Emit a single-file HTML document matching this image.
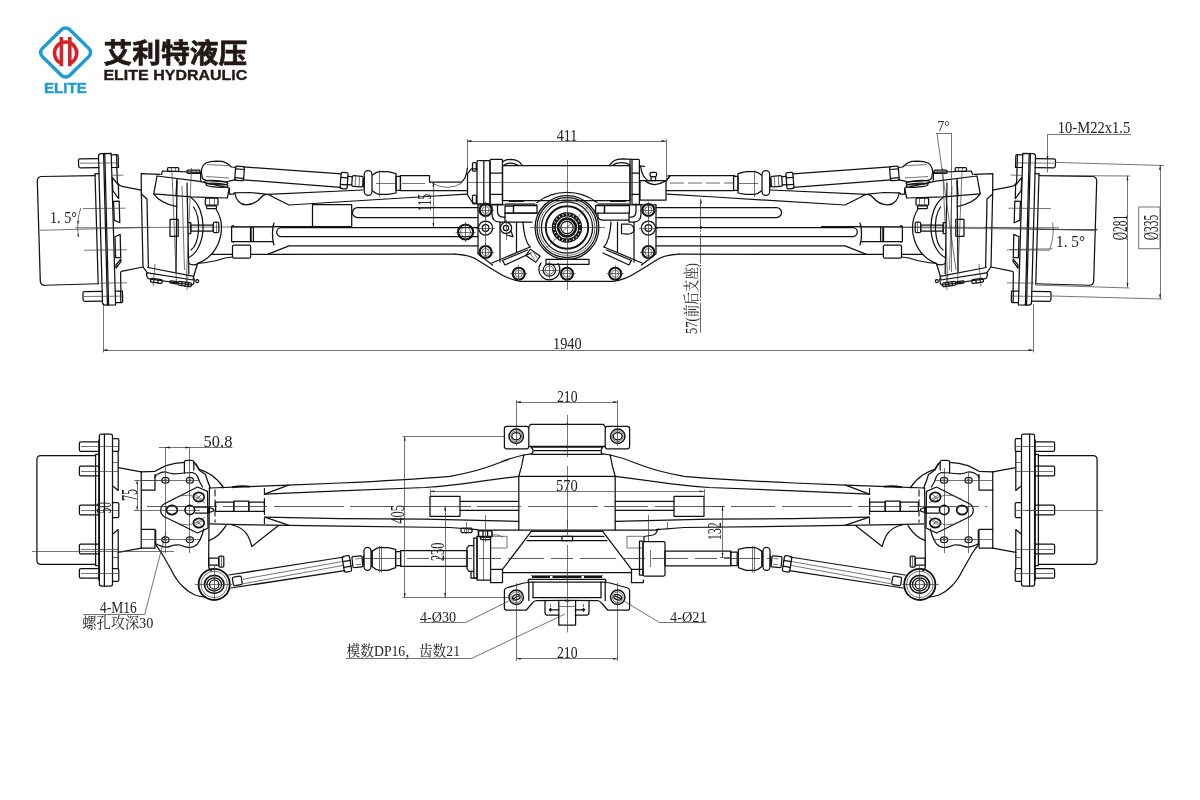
<!DOCTYPE html>
<html lang="zh"><head><meta charset="utf-8"><title>ELITE HYDRAULIC</title>
<style>
html,body{margin:0;padding:0;background:#fff}
body{width:1200px;height:800px;overflow:hidden}
svg{display:block;will-change:transform}
.m{fill:none;stroke:#111;stroke-width:1.25;stroke-linecap:round;stroke-linejoin:round}
.b{fill:none;stroke:#111;stroke-width:1.9}
.t{fill:none;stroke:#3a3a3a;stroke-width:.7}
.cl{fill:none;stroke:#333;stroke-width:.75;stroke-dasharray:14 4}
.w{fill:#fff;stroke:#1c1c1c;stroke-width:1;stroke-linejoin:round}
.k{fill:#1c1c1c;stroke:none}
.d{font-family:"Liberation Serif","Noto Serif CJK SC",serif;fill:#222}
.lg{font-family:"Liberation Sans","Noto Sans CJK SC",sans-serif;font-weight:bold}
</style></head><body>
<svg width="1200" height="800" viewBox="0 0 1200 800">
<g transform="translate(65.6 52.5)">
<rect x="-19.4" y="-19.4" width="38.8" height="38.8" rx="6" transform="scale(1 .98) rotate(45)" fill="none" stroke="#1e9ad6" stroke-width="3.5"/>
<path d="M-4.2 10.9 A11.1 11.1 0 1 1 4.2 10.9" fill="none" stroke="#d7222a" stroke-width="3.6"/>
<path d="M-4.2 -15.6 V13.7 M4.2 -15.6 V13.7" fill="none" stroke="#d7222a" stroke-width="3.6"/>
</g>
<text class="lg" x="65.4" y="92.6" font-size="15" text-anchor="middle" fill="#1e9ad6" stroke="#1e9ad6" stroke-width=".4" textLength="43" lengthAdjust="spacingAndGlyphs">ELITE</text>
<text class="lg" x="103.4" y="62.8" font-size="27.6" fill="#231815" stroke="#231815" stroke-width=".7" textLength="144" lengthAdjust="spacingAndGlyphs">艾利特液压</text>
<text class="lg" x="103.4" y="80.2" font-size="14.4" fill="#231815" stroke="#231815" stroke-width=".35" textLength="144" lengthAdjust="spacingAndGlyphs">ELITE HYDRAULIC</text>
<g id="tl">
<path class="m" d="M95 175.6 L42 176.5 Q37.3 176.6 37.3 181 L40.3 281 Q40.6 285.4 45 285.25 L98 283.75"/>
<line class="m" x1="95" y1="173.8" x2="98.2" y2="283.8"/>
<line class="m" x1="95" y1="173.8" x2="98.9" y2="173.7"/>
<path class="m" d="M98.5 156 Q98.5 153.5 101 153.5 L111.2 153.4 L115.6 304.8 L105.5 305.1 Q102.6 305.1 102.5 302.5 Z"/>
<line class="m" x1="103.6" y1="153.5" x2="107.4" y2="305"/>
<line class="m" x1="104.8" y1="153.5" x2="108.6" y2="305"/>
<path class="m" d="M98.6 158.6 L80 158.8 Q78.5 158.8 78.5 160.3 L78.7 166.3 Q78.7 167.8 80.2 167.8 L98.9 167.6"/>
<path class="m" d="M102.1 291.4 L84.4 291.7 Q82.9 291.7 82.9 293.2 L83.1 299.8 Q83.1 301.3 84.6 301.3 L102.4 301.1"/>
<path class="m" d="M111.3 154.8 L117 154.7 Q118.2 154.7 118.2 156 L118.5 167.4 L111.7 167.5"/>
<path class="m" d="M115.2 291.2 L122.4 291.1 L122.7 301.3 Q122.7 302.6 121.4 302.6 L115.5 302.7"/>
<line class="m" x1="116.6" y1="154.8" x2="116.9" y2="167.4"/>
<line class="m" x1="120.6" y1="291.2" x2="120.9" y2="302.6"/>
<path class="m" d="M116.9 167.5 L117.3 181 Q117.5 185.3 122 186.3 L141.3 190.2"/>
<path class="m" d="M120.9 291.1 L120.6 272.5 Q120.6 271.5 122.5 271.2 L143 267"/>
<path class="m" d="M112.3 177.5 L118.4 185.2 L118.7 198.6 L112.8 190.6 Z"/>
<path class="m" d="M113.6 201.4 L119.2 201.2 L119.8 222.8 L114.3 220.4 Z"/>
<path class="m" d="M115 236.8 L120.2 234.4 L120.7 257.6 L115.6 257.6 Z"/>
<path class="m" d="M115.9 265.2 L120.9 259 L120.9 261.6 L116 268 Z"/>
<line class="t" x1="111" y1="175.3" x2="123.5" y2="175.1"/>
<line class="t" x1="83" y1="208.6" x2="125.5" y2="208.2"/>
<line class="t" x1="84" y1="250.2" x2="127" y2="249.8"/>
<line class="t" x1="100" y1="283.2" x2="127" y2="282.8"/>
<line class="t" x1="80" y1="163.2" x2="119" y2="162.9"/>
<line class="t" x1="84" y1="296.5" x2="123.5" y2="296.1"/>
<line class="t" x1="40" y1="230.3" x2="150" y2="227.4"/>
<line class="t" x1="75" y1="227.8" x2="290" y2="226.7"/>
<path class="m" d="M141.3 190.2 L141.2 173.6 L160 174.4"/>
<path class="m" d="M141.3 190.2 L143 267 L147 272.4"/>
<path class="m" d="M141.4 194 L147 199 L148.4 267.5"/>
<path class="m" d="M157 176 L198 181.2 L229.4 188 L227.3 198 L191 196.9 L153.8 193.8 Z"/>
<path class="m" d="M177 178.6 L176 196"/>
<path class="m" d="M153.8 193.8 Q160 203 176.8 206.6"/>
<path class="m" d="M161.5 174.6 L162.5 171 L200.5 172.3 L200.8 181.5"/>
<rect class="m" x="167.5" y="167.5" width="11.3" height="3.8" rx="1"/>
<rect class="m" x="187" y="170" width="13" height="3.3" rx="1"/>
<line class="t" x1="171.5" y1="167.5" x2="171.5" y2="171.3"/>
<line class="t" x1="175.5" y1="167.5" x2="175.5" y2="171.3"/>
<line class="t" x1="191.5" y1="170" x2="191.5" y2="173.2"/>
<line class="t" x1="196.5" y1="170" x2="196.5" y2="173.2"/>
<line class="m" x1="177" y1="181" x2="176" y2="271.5"/>
<line class="m" x1="187" y1="183" x2="188.8" y2="273.6"/>
<line class="t" x1="182" y1="186" x2="184.5" y2="270"/>
<line class="t" x1="191.5" y1="168" x2="186" y2="286"/>
<line class="t" x1="172" y1="172" x2="176.5" y2="284"/>
<path class="m" d="M216 208.8 A38 38 0 0 1 197.5 263.6"/>
<path class="m" d="M191 197.5 A20 32 0 0 1 188.8 257.5"/>
<path class="m" d="M193.5 207 A11 24 0 0 1 191 250"/>
<rect class="m" x="205.3" y="198.2" width="12.7" height="7" rx="1"/>
<line class="t" x1="209.5" y1="198.2" x2="209.5" y2="205.2"/>
<line class="t" x1="214.5" y1="198.2" x2="214.5" y2="205.2"/>
<rect class="m" x="206.5" y="205.8" width="10" height="2.8" rx="1"/>
<rect class="m" x="170" y="219.4" width="8.2" height="16.9" rx="0"/>
<path class="m" d="M188.5 222.5 L190.8 222.5 L190.8 233.5 L188.5 233.5"/>
<rect class="m" x="190.8" y="225.2" width="22.5" height="5.8" rx="0"/>
<rect class="m" x="213.3" y="222" width="5.5" height="10.7" rx="1.5"/>
<line class="t" x1="216.5" y1="222" x2="216.5" y2="232.7"/>
<path class="m" d="M188.8 263.5 Q193 266 197.5 264 L196 268.5 L193.8 276"/>
<path class="m" d="M148 267.5 L193.8 276.3 L193 280 L147.6 272.8"/>
<path class="m" d="M147.6 272.8 Q146.2 273 146.6 275 L147.2 277.2 Q147.6 278.6 149.4 278.9 L191 285 Q193.3 285.2 193.6 283.4 L194.4 279"/>
<rect class="m" x="150.6" y="279" width="11.6" height="3.8" rx="1.2" transform="rotate(8 156.4 280.9)"/>
<line class="m" x1="154" y1="278.7" x2="153.6" y2="282.4"/>
<line class="m" x1="158.2" y1="279.3" x2="157.8" y2="283"/>
<rect class="m" x="170" y="281.3" width="7.5" height="2.3" rx="1" transform="rotate(8 173.75 282.45)"/>
<rect class="m" x="178" y="282.2" width="13.4" height="3.8" rx="1.2" transform="rotate(8 184.7 284.1)"/>
<line class="m" x1="182" y1="282" x2="181.6" y2="285.6"/>
<line class="m" x1="185.4" y1="282.5" x2="185" y2="286.2"/>
<line class="m" x1="188.6" y1="283" x2="188.2" y2="286.6"/>
<circle class="m" cx="197.2" cy="281" r="1.5"/>
<line class="t" x1="155" y1="264" x2="153" y2="286"/>
<line class="t" x1="189" y1="262" x2="187" y2="290"/>
<path class="m" d="M197.5 263.4 Q212 262.5 225 258 L232.5 257"/>
<line class="m" x1="211" y1="254.4" x2="232.5" y2="254.4"/>
<rect class="m" x="232.5" y="245" width="18.1" height="13.2" rx="1.5"/>
<path class="m" d="M250.6 254.4 L267.5 254.4 L289 245.8 L478 245.8"/>
<line class="m" x1="267.5" y1="254.4" x2="455" y2="254.2"/>
<path class="m" d="M233.5 225.5 Q231.6 225.5 231.6 227 L231.6 240.8 Q231.6 242 233.5 242"/>
<line class="m" x1="231.6" y1="226.8" x2="272.5" y2="226.8"/>
<line class="m" x1="231.6" y1="241.6" x2="272.5" y2="241.6"/>
<line class="b" x1="250.8" y1="226.8" x2="250.8" y2="241.6"/>
<line class="m" x1="253.4" y1="226.8" x2="253.4" y2="241.6"/>
<path class="m" d="M274 223 Q272.5 227 272.5 234 Q272.5 241 274 245"/>
<path class="m" d="M229.3 189 L229.3 194 L233.3 194 L234.7 192.8 L250 192.5 L266 194.2"/>
<path class="m" d="M234.7 192.8 Q237 204.5 246 204.8 Q255 204.8 261 197.5 Q264 194 267 194.4 Q270 194.6 273 197 L289 205 L419 197 L467 194.2"/>
<line class="m" x1="267" y1="194.4" x2="363" y2="190"/>
<path class="m" d="M478 207.5 L357.5 207.5 A5 5 0 0 0 357.5 217.5 L478 217.5"/>
<path class="m" d="M478 227.5 L281.3 227.5 A4.6 4.6 0 0 0 281.3 236.7 L478 236.7"/>
<line class="m" x1="273" y1="226.7" x2="312.5" y2="226.7"/>
<rect class="m" x="235.2" y="166.3" width="8.8" height="14.2" rx="1.2" transform="rotate(4 239.6 173.4)"/>
<line class="m" x1="235.8" y1="168.8" x2="244.2" y2="169.5"/>
<line class="m" x1="235" y1="177.6" x2="243.4" y2="178.3"/>
<line class="m" x1="243.6" y1="166.9" x2="341.5" y2="173.8"/>
<line class="m" x1="243" y1="179.9" x2="340.8" y2="187.4"/>
<rect class="m" x="340.6" y="172.4" width="7" height="16.4" rx="1.5" transform="rotate(4 344.1 180.6)"/>
<line class="m" x1="340.9" y1="177.4" x2="347.4" y2="177.9"/>
<line class="m" x1="340.5" y1="184.4" x2="347" y2="184.9"/>
<line class="m" x1="347.6" y1="176.3" x2="352" y2="176.6"/>
<line class="m" x1="347.4" y1="184.6" x2="351.6" y2="184.9"/>
<rect class="m" x="352" y="176" width="11" height="10.6" rx="1.5" transform="rotate(4 357.5 181.3)"/>
<line class="t" x1="355.5" y1="176" x2="355.2" y2="186.5"/>
<line class="t" x1="359.5" y1="176.2" x2="359.2" y2="186.6"/>
<rect class="m" x="364.3" y="170.7" width="7.7" height="24.6" rx="3.8"/>
<path class="k" d="M362.7 178.4 L364.4 176.4 L364.4 188.8 L362.7 186.4 Z"/>
<path class="m" d="M372.7 175 Q376 172 379.3 171.7 L388 171.7 L396 173.7 L396 193 L388 194.3 L379.3 194.3 Q376 194 372.7 191"/>
<line class="t" x1="379.5" y1="170.3" x2="379.5" y2="197"/>
<rect class="m" x="396" y="176.3" width="4.4" height="14" rx="0"/>
<line class="t" x1="376" y1="183.5" x2="396" y2="183.5"/>
<path class="m" d="M201.3 172 Q201.5 166 206 163 Q210 161.2 216 161.2 L222.5 161.4 Q228 163 231.3 167 L235.8 167.4"/>
<path class="m" d="M201.3 172 L202.5 178.5 Q205 180.5 208 180.6 L226 182 Q229 181 235.6 179.6"/>
<ellipse class="m" cx="216" cy="182.6" rx="12" ry="2.1" transform="rotate(4 216 182.6)"/>
<ellipse class="m" cx="217" cy="185.2" rx="11" ry="1.9" transform="rotate(4 217 185.2)"/>
<line class="t" x1="207" y1="164.6" x2="228" y2="165.6"/>
<line class="t" x1="206" y1="176.5" x2="229" y2="178"/>
<path class="m" d="M478 205 L478 253.8 L492.5 265"/>
<path class="m" d="M455 254.2 Q470 255 477.5 260 Q486 265.5 496 271.5 Q508 279.5 520 281.25 L567.5 281.25"/>
<circle cx="485.6" cy="210" r="6.0" fill="none" stroke="#111" stroke-width="2.2"/>
<circle class="t" cx="485.6" cy="210" r="3.5"/>
<line class="t" x1="477.1" y1="210.5" x2="494.1" y2="210.5"/>
<line class="t" x1="485.5" y1="201.5" x2="485.5" y2="218.5"/>
<circle cx="485.6" cy="252" r="6.0" fill="none" stroke="#111" stroke-width="2.2"/>
<circle class="t" cx="485.6" cy="252" r="3.5"/>
<line class="t" x1="477.1" y1="252.5" x2="494.1" y2="252.5"/>
<line class="t" x1="485.5" y1="243.5" x2="485.5" y2="260.5"/>
<circle cx="518.75" cy="273.75" r="6.0" fill="none" stroke="#111" stroke-width="2.2"/>
<circle class="t" cx="518.75" cy="273.75" r="3.5"/>
<line class="t" x1="510.25" y1="273.5" x2="527.25" y2="273.5"/>
<line class="t" x1="518.5" y1="265.25" x2="518.5" y2="282.25"/>
<circle class="m" cx="485.6" cy="228" r="7"/>
<circle class="m" cx="485.6" cy="228" r="3.3"/>
<line class="t" x1="476" y1="228.5" x2="495" y2="228.5"/>
<line class="t" x1="485.5" y1="203" x2="485.5" y2="260"/>
</g>
<use href="#tl" transform="matrix(-1 0 0 1 1134 0)"/>
<g id="tc">
<rect class="m" x="502.5" y="165.6" width="127.5" height="35" rx="0"/>
<line class="t" x1="467" y1="182.5" x2="640" y2="182.5"/>
<path class="m" d="M477 168.8 L471.3 168.8 L467.5 173.8 L467.5 195 L472.5 202.5 L477 203.8"/>
<rect class="m" x="472.5" y="162.5" width="3.8" height="8.7" rx="1"/>
<rect class="m" x="472.5" y="195" width="3.8" height="8.8" rx="1"/>
<rect class="m" x="477" y="160.6" width="13" height="43.2" rx="1"/>
<line class="m" x1="483.8" y1="160.6" x2="483.8" y2="203.8"/>
<rect class="m" x="490" y="159.4" width="12.5" height="45" rx="1"/>
<line class="m" x1="490" y1="173" x2="502.5" y2="173"/>
<line class="m" x1="490" y1="194.4" x2="502.5" y2="194.4"/>
<path class="m" d="M502.5 162 Q505 159.4 511 159.4 Q519 159.6 522.5 165.6"/>
<path class="m" d="M504 165.2 Q510 160.8 518 165.4"/>
<rect class="m" x="632" y="159.4" width="7.4" height="45" rx="1"/>
<line class="m" x1="632" y1="173" x2="639.4" y2="173"/>
<line class="m" x1="632" y1="194.4" x2="639.4" y2="194.4"/>
<line class="m" x1="630" y1="160.5" x2="630" y2="204"/>
<path class="m" d="M609.4 165.6 Q613 158.8 622 158.8 L632 159.4"/>
<path class="m" d="M612 165.4 Q618 161 627 163.4 L630 165"/>
<rect class="m" x="640" y="180.6" width="26" height="19.4" rx="0"/>
<path class="m" d="M640.5 166 Q642 178 649 181"/>
<line class="m" x1="639.4" y1="166" x2="644.5" y2="166.4"/>
<rect class="m" x="650" y="172.4" width="6.6" height="4.2" rx="1.5"/>
<rect class="m" x="651" y="176.6" width="4.6" height="4" rx="0"/>
<path class="m" d="M645.5 181 Q654 188 664.5 181.4"/>
<path class="m" d="M666 181 L670 175.8 L667.7 175.8"/>
<circle class="m" cx="567" cy="227.5" r="31.9"/>
<circle class="m" cx="567" cy="227.5" r="30"/>
<circle class="t" cx="567" cy="227.5" r="27.9"/>
<circle class="m" cx="567" cy="227.5" r="25.6"/>
<circle class="b" cx="567" cy="227.5" r="21.2"/>
<circle class="m" cx="567" cy="227.5" r="14.6"/>
<circle class="m" cx="567" cy="227.5" r="11.7"/>
<circle class="m" cx="567" cy="227.5" r="6.2"/>
<circle cx="567" cy="227.5" r="8.9" fill="none" stroke="#111" stroke-width="2.6"/>
<circle cx="567" cy="227.5" r="13.1" fill="none" stroke="#111" stroke-width="2.4" stroke-dasharray="2.7 .9"/>
<path class="m" d="M537 202.5 A50 50 0 0 1 597 202.5"/>
<line class="t" x1="567.5" y1="160" x2="567.5" y2="290"/>
<line class="t" x1="530" y1="227.5" x2="605" y2="227.5"/>
<line class="t" x1="545" y1="249.5" x2="589" y2="205.5"/>
<circle cx="465.6" cy="232" r="7.5" fill="none" stroke="#111" stroke-width="2.2"/>
<circle class="t" cx="465.6" cy="232" r="5"/>
<line class="t" x1="455.6" y1="232.5" x2="475.6" y2="232.5"/>
<line class="t" x1="465.5" y1="222" x2="465.5" y2="242"/>
<circle cx="567" cy="273.75" r="6.0" fill="none" stroke="#111" stroke-width="2.2"/>
<circle class="t" cx="567" cy="273.75" r="3.5"/>
<line class="t" x1="558.5" y1="273.5" x2="575.5" y2="273.5"/>
<line class="t" x1="567.5" y1="265.25" x2="567.5" y2="282.25"/>
<circle class="m" cx="549.4" cy="270" r="6.2"/>
<circle class="t" cx="549.4" cy="270" r="4.2"/>
<path class="m" d="M541 263 A10.5 10.5 0 1 0 558 263.4"/>
<line class="t" x1="540" y1="270.5" x2="559" y2="270.5"/>
<line class="t" x1="549.5" y1="261" x2="549.5" y2="280"/>
<rect class="m" x="546" y="259.4" width="43" height="5" rx="0"/>
<rect class="m" x="505" y="206" width="8.5" height="7" rx="0"/>
<rect class="m" x="513.5" y="205.6" width="23.5" height="7.4" rx="0"/>
<path class="m" d="M492 204.4 L492 214 Q492 222 500 222 L505 222 L505 213"/>
<path class="m" d="M497.5 204.4 L497.5 211 Q497.5 217 503 217 L505 217"/>
<line class="m" x1="505" y1="213" x2="537" y2="213"/>
<line class="m" x1="505" y1="222" x2="532" y2="222"/>
<path class="m" d="M478 204.8 L537 204.8"/>
<line class="b" x1="509" y1="201" x2="524" y2="201"/>
<line class="t" x1="505" y1="203.5" x2="535" y2="203.5"/>
<g id="tci">
<line class="m" x1="500" y1="222" x2="500" y2="262"/>
<line class="m" x1="516.5" y1="222" x2="516.5" y2="252"/>
<path class="m" d="M523 222 Q524 240 530 247"/>
<path class="m" d="M492 263 L530 247"/>
<path class="m" d="M502.5 260.5 L527.5 250"/>
<path class="m" d="M502.5 260.5 L505 265 L531 253"/>
</g>
<use href="#tci" transform="matrix(-1 0 0 1 1134 0)"/>
<rect class="m" x="527" y="252" width="12" height="7.5" rx="0" transform="rotate(35 533 255.75)"/>
<line class="t" x1="530" y1="253" x2="534.5" y2="259.7"/>
<line class="t" x1="532.7" y1="251.2" x2="537.2" y2="257.9"/>
<circle class="m" cx="506" cy="228" r="5.6"/>
<circle class="m" cx="506" cy="228" r="2.6"/>
<path class="m" d="M511 231 L513 236.6 L506.5 235"/>
<line class="t" x1="506.5" y1="220" x2="506.5" y2="240"/>
<rect class="m" x="595.6" y="205.6" width="8.9" height="7.4" rx="0"/>
<rect class="m" x="604.5" y="205.6" width="24.9" height="7.4" rx="0"/>
<line class="b" x1="610" y1="201" x2="626" y2="201"/>
<line class="t" x1="598" y1="203.5" x2="630" y2="203.5"/>
<path class="m" d="M641 204.4 L641 214 Q641 222 634 222 L629 222 L629 213"/>
<path class="m" d="M636 204.4 L636 211 Q636 217 631.5 217 L629.4 217"/>
<path class="m" d="M598 213 L598 217 Q599 220 603 220 L629 220"/>
<path class="m" d="M621.5 233.5 L621.5 224 L628 224 Q634.5 224.5 634 231 Q632 234 627 234.2 L621.5 233.5"/>
<line class="m" x1="597" y1="204.8" x2="656" y2="204.8"/>
</g>
<path class="m" d="M400.5 175.5 H429.5 V182 H461 Q466 180 467.4 168"/>
<path class="m" d="M400.5 175.5 V190.5 H467.4"/>
<path class="t" d="M432 183.2 Q448 192 463 182.4"/>
<line class="t" x1="402" y1="183.5" x2="425" y2="183.5"/>
<path class="m" d="M734.5 175.6 H670 L666.2 181 M734.5 190.6 H666.2"/>
<path class="cl" d="M670 183 H733"/>
<rect class="m" x="312.5" y="204.7" width="39.2" height="22" rx="0"/>
<g id="bl">
<path class="m" d="M95.6 455.6 L41 455.6 Q36.9 455.6 36.9 459.7 L36.9 560.3 Q36.9 564.4 41 564.4 L95.6 564.4"/>
<path class="m" d="M98.8 455.6 L98.8 454.4 L95.6 454.4 L95.6 565.6 L98.8 565.6 L98.8 564.4"/>
<rect class="m" x="99.4" y="434" width="13.1" height="152" rx="2"/>
<line class="m" x1="104.4" y1="434" x2="104.4" y2="586"/>
<line class="m" x1="98.8" y1="440" x2="98.8" y2="580"/>
<path class="m" d="M98.8 441.8 L80.8 441.8 Q79.4 441.8 79.4 443.20000000000005 L79.4 450.0 Q79.4 451.40000000000003 80.8 451.40000000000003 L98.8 451.40000000000003"/>
<line class="t" x1="81" y1="446.5" x2="118" y2="446.5"/>
<path class="m" d="M98.8 466.2 L80.8 466.2 Q79.4 466.2 79.4 467.6 L79.4 474.4 Q79.4 475.8 80.8 475.8 L98.8 475.8"/>
<line class="t" x1="81" y1="471.5" x2="118" y2="471.5"/>
<path class="m" d="M98.8 505.2 L80.8 505.2 Q79.4 505.2 79.4 506.6 L79.4 513.4 Q79.4 514.8 80.8 514.8 L98.8 514.8"/>
<line class="t" x1="81" y1="510.5" x2="118" y2="510.5"/>
<path class="m" d="M98.8 544.2 L80.8 544.2 Q79.4 544.2 79.4 545.6 L79.4 552.4 Q79.4 553.8 80.8 553.8 L98.8 553.8"/>
<line class="t" x1="81" y1="549.5" x2="118" y2="549.5"/>
<path class="m" d="M98.8 568.6 L80.8 568.6 Q79.4 568.6 79.4 570.0 L79.4 576.8 Q79.4 578.1999999999999 80.8 578.1999999999999 L98.8 578.1999999999999"/>
<line class="t" x1="81" y1="573.5" x2="118" y2="573.5"/>
<path class="m" d="M112.5 438.7 L117.5 438.7 Q118.8 438.7 118.8 440.0 L118.8 450.0 Q118.8 451.3 117.5 451.3 L112.5 451.3"/>
<path class="m" d="M112.5 502.5 L117.5 502.5 Q118.8 502.5 118.8 503.8 L118.8 516.2 Q118.8 517.5 117.5 517.5 L112.5 517.5"/>
<path class="m" d="M112.5 568.7 L117.5 568.7 Q118.8 568.7 118.8 570.0 L118.8 580.0 Q118.8 581.3 117.5 581.3 L112.5 581.3"/>
<path class="m" d="M118.2 451.3 L118.2 490.4 L112.5 485.7"/>
<path class="m" d="M118.2 467.6 L141.25 471.9"/>
<path class="m" d="M118.2 568.7 L118.2 529.6 L112.5 534.3"/>
<path class="m" d="M118.2 552.4 L141.25 548.1"/>
<line class="t" x1="112.5" y1="462.5" x2="118.2" y2="462.5"/>
<line class="t" x1="112.5" y1="557.5" x2="118.2" y2="557.5"/>
<line class="m" x1="141.25" y1="471.9" x2="141.25" y2="548.1"/>
<path class="m" d="M141.25 490 L155 490 L155 474.4"/>
<path class="m" d="M141.25 529.4 L155 529.4 L155 548.1 L141.25 548.1"/>
<line class="m" x1="155.7" y1="530" x2="155.7" y2="543.8"/>
<path class="m" d="M141.25 471.9 L155 471.3 Q160 468.5 166 465.6 Q175 462.8 184.4 462.4"/>
<path class="m" d="M184.4 473 L184.4 462 Q184.6 460.3 186.5 460.3 L192 460.3 Q193.8 460.4 193.8 462 L193.8 470"/>
<path class="m" d="M193.8 462 L199.4 469.4 Q206 471.5 211.3 475 Q218.5 480 223.8 487.8"/>
<path class="m" d="M196 463.8 L199 470 L205.5 474.5 Q207 480 210.3 488"/>
<path class="m" d="M155 477.5 Q155.6 475 158 474 Q162 471.6 166 472 Q170 473.4 174 473.8 Q180 473.6 184.4 473 L192.5 472.5 Q196 473.4 197.5 476.3 Q198.8 480 200 482.5 L202.5 487"/>
<path class="m" d="M155.6 543.8 Q158 545 162 546.4 Q166 548 170 546.3 Q175 544.6 180 545 Q186 547.6 190 547.5 Q195 546.8 197.5 543.8 Q200.4 540 202 535 L203.8 529"/>
<ellipse class="m" cx="165.4" cy="480.25" rx="3.6" ry="2.9"/>
<circle class="t" cx="165.4" cy="480.25" r="1.2"/>
<ellipse class="m" cx="165.4" cy="539.75" rx="3.6" ry="2.9"/>
<circle class="t" cx="165.4" cy="539.75" r="1.2"/>
<ellipse class="m" cx="189.9" cy="480.25" rx="3.6" ry="2.9"/>
<circle class="t" cx="189.9" cy="480.25" r="1.2"/>
<ellipse class="m" cx="189.9" cy="539.75" rx="3.6" ry="2.9"/>
<circle class="t" cx="189.9" cy="539.75" r="1.2"/>
<line class="t" x1="165.5" y1="472" x2="165.5" y2="553"/>
<line class="t" x1="189.5" y1="468" x2="189.5" y2="553"/>
<line class="t" x1="141" y1="480.5" x2="200" y2="480.5"/>
<line class="t" x1="141" y1="539.5" x2="200" y2="539.5"/>
<path class="m" d="M197.5 487 L207.5 491.4 L208 528 L197.5 533 L164 516.5 Q160.6 514.5 160.8 510 Q160.8 506 164 504 Z"/>
<ellipse cx="171.9" cy="510" rx="5.4" ry="4.6" fill="none" stroke="#111" stroke-width="1.7"/>
<ellipse cx="189.8" cy="510" rx="4.8" ry="4.6" fill="none" stroke="#111" stroke-width="1.7"/>
<ellipse cx="198.8" cy="497" rx="5.4" ry="4.6" fill="none" stroke="#111" stroke-width="1.7"/>
<ellipse cx="198.8" cy="523" rx="5.4" ry="4.6" fill="none" stroke="#111" stroke-width="1.7"/>
<line class="t" x1="195.5" y1="495" x2="202" y2="499"/>
<line class="t" x1="196" y1="499.5" x2="201.6" y2="494.6"/>
<line class="t" x1="195.5" y1="525" x2="202" y2="521"/>
<line class="t" x1="196" y1="520.5" x2="201.6" y2="525.4"/>
<path class="t" d="M172 499.5 Q189 489 205 503 M172 520.5 Q189 531 205 517"/>
<path class="m" d="M195 507 L208 507 M195 513 L208 513"/>
<path d="M208.4 506.6 V513.4" stroke="#111" stroke-width="2.4" fill="none"/>
<path class="m" d="M209.6 507.6 L213.4 509 L213.4 511 L209.6 512.4"/>
<path class="m" d="M209.4 487.8 L208.6 566 Q208.8 569.5 211.5 571"/>
<path d="M215 489.5 V522.5 M264.4 488 V524" fill="none" stroke="#111" stroke-width="1.1" stroke-dasharray="7 3"/>
<rect class="m" x="215.6" y="502" width="18.2" height="9.3" rx="0"/>
<rect class="m" x="233.8" y="501.2" width="15" height="10.1" rx="0"/>
<rect class="m" x="248.8" y="502" width="15.6" height="9.3" rx="0"/>
<path class="b" d="M232 487.4 Q240 485.5 250 486.6"/>
<path class="m" d="M208.6 540.6 Q218 538 226 525.6"/>
<path class="m" d="M232 525 Q243 527 248 536 Q250.5 541 251.8 546.5 L278.2 525.7"/>
<path class="m" d="M155.2 543.8 Q158 548 161.3 552.5 L171.3 570 Q176 580 182.5 586.3 Q188 592 195 595 Q200 597 206 597"/>
<circle cx="214.2" cy="584.4" r="15.6" fill="none" stroke="#111" stroke-width="1.8"/>
<circle class="t" cx="214.2" cy="584.4" r="13.2"/>
<ellipse cx="214.2" cy="584.4" rx="9.8" ry="9" fill="none" stroke="#111" stroke-width="1.6"/>
<ellipse class="m" cx="214.2" cy="584.4" rx="7.3" ry="6.6"/>
<circle class="m" cx="214.2" cy="584.4" r="4.6"/>
<line class="t" x1="195" y1="584.5" x2="232" y2="584.5"/>
<line class="t" x1="214.5" y1="566" x2="214.5" y2="601"/>
<rect class="m" x="208.8" y="558" width="10" height="7" rx="0"/>
<rect class="m" x="218.8" y="556" width="5" height="11" rx="1.3"/>
<line class="t" x1="221.5" y1="556" x2="221.5" y2="567"/>
<line class="m" x1="228.8" y1="575" x2="344" y2="557"/>
<line class="m" x1="231" y1="588" x2="344.7" y2="570.7"/>
<line class="t" x1="243" y1="579.2" x2="343" y2="561.4"/>
<line class="t" x1="243" y1="583.8" x2="343" y2="565.4"/>
<rect class="m" x="232.8" y="576.6" width="9" height="8.6" rx="1.5" transform="rotate(-9 237.3 580.9)"/>
<rect class="m" x="343.2" y="555.8" width="7.4" height="16" rx="1.5" transform="rotate(-9 346.9 563.8)"/>
<line class="m" x1="343" y1="561.6" x2="350" y2="560.4"/>
<line class="m" x1="344" y1="567.4" x2="351" y2="566.2"/>
<rect class="m" x="352.4" y="556.2" width="10" height="11" rx="1.2" transform="rotate(-6 357.4 561.7)"/>
<line class="t" x1="355.5" y1="559" x2="360.5" y2="558.4"/>
<line class="t" x1="355.8" y1="564.8" x2="361" y2="564.2"/>
<path class="k" d="M362.6 556.4 L364.2 554.6 L364.2 566.4 L362.6 565 Z"/>
<rect class="m" x="364" y="547.3" width="7" height="23" rx="3.5"/>
<path d="M372 550.6 V567" fill="none" stroke="#111" stroke-width="1.8"/>
<path class="m" d="M372.7 551 Q376 548 379.3 547.7 L388 547.7 L395.6 549.3 L395.6 567.7 L388 570.3 L379.3 570.3 Q376 570 372.7 567"/>
<line class="t" x1="379.5" y1="546" x2="379.5" y2="572.6"/>
<line class="t" x1="381.5" y1="546" x2="381.5" y2="572.6"/>
<path class="m" d="M490.6 569.4 L502.5 569.4 L502.5 582.5 L490.6 582.5 L490.6 580"/>
<path class="t" d="M490.6 536.3 L507 536.3 L507 548 L490.6 548"/>
<path class="m" d="M502.5 569.4 L531.3 531.3"/>
<path class="m" d="M210 488 L240 486.9 L288.4 485.2 L340 483 Q405 480 450 476.3 Q478 471.5 500 462.5 Q512 457.5 523.8 455"/>
<path class="m" d="M264.7 494.2 L340 490.8 L425 487.5 Q450 485.4 462.5 483.8 Q490 480 518.8 476.3"/>
<path class="m" d="M210 523.8 L240 524.6 L340 526.2 L450 527.5 L477.5 529.6"/>
<path class="m" d="M264.7 517.2 L340 518.6 L425 519.2 L518.8 521.3"/>
<line class="m" x1="264.7" y1="494.2" x2="288.4" y2="485.2"/>
<line class="m" x1="264.7" y1="517.2" x2="288.4" y2="525.1"/>
<path class="m" d="M523.8 455 Q522 466 518.8 476.3 L518.8 530"/>
<line class="m" x1="477.5" y1="530" x2="567" y2="530"/>
<rect class="m" x="430" y="496.3" width="30" height="20" rx="0"/>
<line class="m" x1="460" y1="501.3" x2="518.8" y2="501.3"/>
<line class="m" x1="460" y1="510.3" x2="518.8" y2="510.3"/>
<rect class="m" x="504.4" y="426.3" width="24.4" height="22.5" rx="2.2"/>
<circle cx="516.25" cy="436.25" r="7.2" fill="none" stroke="#111" stroke-width="1.5"/>
<circle class="t" cx="516.25" cy="436.25" r="5.4"/>
<ellipse class="m" cx="516.25" cy="436.25" rx="4.4" ry="3.6"/>
<path class="m" d="M528.8 426.8 L530.5 424.4 L567 424.4 M528.8 446.3 L567 446.3"/>
<path class="m" d="M532.5 447.2 L567 447.2 M534 450.6 L567 450.6 M532 454.4 L567 454.4"/>
<path class="m" d="M531 447 Q533 449 533 451 Q533 453.6 531.3 453.8 L523.8 455"/>
<line class="m" x1="518.8" y1="476.3" x2="567" y2="476.3"/>
<path class="m" d="M567 579.4 L528.5 579.4 L528 582.5 L523.8 583 L506.3 588 Q504.4 588.8 504.4 590.6 L504.4 608 Q504.4 610 506.3 610 L526.3 610 L532.5 603 Q534 601 536.3 600.5 L567 600.3"/>
<line class="m" x1="528.8" y1="582.2" x2="567" y2="582.2"/>
<line class="m" x1="528.8" y1="582.2" x2="528.8" y2="600.5"/>
<line class="m" x1="533" y1="582.2" x2="533" y2="597.5"/>
<line class="m" x1="533" y1="597.5" x2="567" y2="597.5"/>
<circle cx="516.25" cy="597.25" r="7.2" fill="none" stroke="#111" stroke-width="1.5"/>
<circle class="t" cx="516.25" cy="597.25" r="5.4"/>
<ellipse class="m" cx="516.25" cy="597.25" rx="4" ry="2.6" transform="rotate(-20 516.25 597.25)"/>
<line class="m" x1="513.6" y1="598.4" x2="518.8" y2="596"/>
<path d="M532 577 H550 M552.5 577 H567" fill="none" stroke="#111" stroke-width="2"/>
<line class="m" x1="502.5" y1="572.5" x2="567" y2="572.5"/>
<line class="t" x1="531" y1="575.5" x2="567" y2="575.5"/>
<line class="m" x1="531.3" y1="531.3" x2="567" y2="531.3"/>
<line class="m" x1="530" y1="536.3" x2="567" y2="536.3"/>
<line class="m" x1="527" y1="540.6" x2="567" y2="540.6"/>
<path class="m" d="M545 600.6 L545 612.5 Q545 615 547.5 615 L558.8 615"/>
<path class="k" d="M550.4 607.6 L552.2 609.75 L550.4 611.9 L548.6 609.75 Z"/>
<line class="m" x1="550.4" y1="609.75" x2="558.8" y2="609.75"/>
<line class="t" x1="550.5" y1="604" x2="550.5" y2="607"/>
</g>
<use href="#bl" transform="matrix(-1 0 0 1 1134 0)"/>
<g id="bc">
<path class="m" d="M558.8 601.3 L558.8 625 L575.6 625 L575.6 601.3"/>
<line class="t" x1="558.8" y1="606.5" x2="575.6" y2="606.5"/>
<rect class="m" x="562" y="536.3" width="10.5" height="4.3" rx="0"/>
<path class="k" d="M565 424.4 L567 423 L569 424.4"/>
<line class="t" x1="567.5" y1="415" x2="567.5" y2="457"/>
<line class="t" x1="567.5" y1="466" x2="567.5" y2="535"/>
<line class="t" x1="567.5" y1="590" x2="567.5" y2="632.5"/>
<line class="t" x1="567.5" y1="520" x2="567.5" y2="527"/>
<line class="t" x1="567.5" y1="545" x2="567.5" y2="590"/>
<path class="t" d="M563.5 600.5 Q567 603.5 570.5 600.5"/>
</g>
<g id="blo">
<rect class="m" x="395.6" y="551.7" width="5" height="14" rx="0"/>
<rect class="m" x="400.6" y="550.6" width="66.4" height="15.7" rx="0"/>
<path class="m" d="M473.8 545.6 L469 545.6 L467 548 L467 568.5 L469 571.3 L473.8 571.3"/>
<rect class="m" x="473.8" y="538" width="3.2" height="40" rx="0"/>
<rect class="m" x="477" y="536.3" width="13.6" height="43.7" rx="0"/>
<line class="t" x1="483.5" y1="536.3" x2="483.5" y2="580"/>
<path class="m" d="M477 578 L471 578 L471 571.3"/>
<rect class="m" x="461" y="528.2" width="11" height="4.4" rx="1"/>
<line class="t" x1="464.5" y1="528.2" x2="464.5" y2="532.6"/>
<line class="t" x1="468.5" y1="528.2" x2="468.5" y2="532.6"/>
<line class="t" x1="466.5" y1="522" x2="466.5" y2="534"/>
<rect x="478.5" y="530.8" width="13.5" height="6" rx="1" fill="none" stroke="#111" stroke-width="1.6"/>
<line class="m" x1="483" y1="530.8" x2="483" y2="536.8"/>
<line class="m" x1="487.6" y1="530.8" x2="487.6" y2="536.8"/>
<rect class="m" x="480.5" y="537" width="10" height="2.6" rx="1"/>
<line class="t" x1="485.5" y1="515" x2="485.5" y2="542"/>
<path class="t" d="M492 535 Q499 534 503 537.6"/>
</g>
<g id="bro">
<rect class="m" x="639.5" y="541" width="3.5" height="34" rx="0"/>
<rect class="m" x="643" y="541.5" width="22" height="34.5" rx="1.5"/>
<line class="t" x1="650.5" y1="550" x2="650.5" y2="567"/>
<rect class="m" x="665" y="551" width="65.8" height="14.8" rx="0"/>
<rect class="m" x="730.8" y="552" width="6.4" height="13.6" rx="0"/>
<path class="m" d="M658 528.8 Q656.5 534 653 535 L644 536.5 L644 541"/>
<line class="t" x1="648.5" y1="515" x2="648.5" y2="541"/>
<line class="t" x1="667.5" y1="522" x2="667.5" y2="530"/>
</g>
<g id="dims">
<line class="t" x1="467" y1="141.5" x2="666" y2="141.5"/>
<line class="t" x1="467.5" y1="139" x2="467.5" y2="168"/>
<line class="t" x1="666.5" y1="139" x2="666.5" y2="181"/>
<path class="k" d="M467 141 L471.5 140.1 L471.5 141.9 Z"/>
<path class="k" d="M666 141 L661.5 141.9 L661.5 140.1 Z"/>
<text class="d" x="567" y="141" font-size="16.4" text-anchor="middle" textLength="20.5" lengthAdjust="spacingAndGlyphs">411</text>
<line class="t" x1="103" y1="350.5" x2="1033" y2="350.5"/>
<line class="t" x1="103.5" y1="305" x2="103.5" y2="352.5"/>
<line class="t" x1="1033.5" y1="304" x2="1033.5" y2="352.5"/>
<path class="k" d="M103 350 L107.5 349.1 L107.5 350.9 Z"/>
<path class="k" d="M1033 350 L1028.5 350.9 L1028.5 349.1 Z"/>
<text class="d" x="567.3" y="349.3" font-size="16.8" text-anchor="middle" textLength="28.6" lengthAdjust="spacingAndGlyphs">1940</text>
<line class="t" x1="433.5" y1="182" x2="433.5" y2="227.5"/>
<path class="k" d="M433.4 182 L434.3 186.5 L432.5 186.5 Z"/>
<path class="k" d="M433.4 227.5 L432.5 223 L434.3 223 Z"/>
<text class="d" x="431.3" y="202.5" font-size="19.5" text-anchor="middle" textLength="17.5" lengthAdjust="spacingAndGlyphs" transform="rotate(-90 431.3 202.5)">115</text>
<path d="M700.5 199 V334" fill="none" stroke="#333" stroke-width=".75" stroke-dasharray="30 1.5 1.5 1.5"/>
<path class="k" d="M701 199 L701.9 203.5 L700.1 203.5 Z"/>
<path class="k" d="M701 230.5 L700.1 226 L701.9 226 Z"/>
<text class="d" x="696.6" y="298.5" font-size="16" text-anchor="middle" textLength="71" lengthAdjust="spacingAndGlyphs" transform="rotate(-90 696.6 298.5)">57(前后支座)</text>
<line class="t" x1="936" y1="133.5" x2="951.3" y2="133.5"/>
<line class="t" x1="951.5" y1="133" x2="951.5" y2="272"/>
<line class="t" x1="937" y1="133.5" x2="956" y2="270"/>
<text class="d" x="943.6" y="131.2" font-size="15.5" text-anchor="middle" textLength="12" lengthAdjust="spacingAndGlyphs">7°</text>
<line class="t" x1="1047.5" y1="134.5" x2="1131" y2="134.5"/>
<line class="t" x1="1047.5" y1="134.3" x2="1047.5" y2="172.5"/>
<path class="k" d="M1047.5 160.5 L1046.6 156 L1048.4 156 Z"/>
<text class="d" x="1094" y="133.2" font-size="16.5" text-anchor="middle" textLength="72.5" lengthAdjust="spacingAndGlyphs">10-M22x1.5</text>
<line class="t" x1="1127.5" y1="175.5" x2="1127.5" y2="287.5"/>
<line class="t" x1="1040" y1="175.4" x2="1130" y2="176"/>
<line class="t" x1="1035" y1="285" x2="1129.5" y2="288"/>
<path class="k" d="M1127.5 175.8 L1128.4 180.3 L1126.6 180.3 Z"/>
<path class="k" d="M1127.5 287.6 L1126.6 283.1 L1128.4 283.1 Z"/>
<text class="d" x="1127" y="227.5" font-size="20" text-anchor="middle" textLength="25.5" lengthAdjust="spacingAndGlyphs" transform="rotate(-90 1127 227.5)">Ø281</text>
<line class="t" x1="1160.5" y1="165" x2="1160.5" y2="298.8"/>
<line class="t" x1="1055" y1="162.4" x2="1164" y2="165.5"/>
<line class="t" x1="1052" y1="296" x2="1162" y2="299"/>
<path class="k" d="M1160 165.4 L1160.9 169.9 L1159.1 169.9 Z"/>
<path class="k" d="M1160 298.7 L1159.1 294.2 L1160.9 294.2 Z"/>
<rect class="t" x="1138.8" y="207" width="21.2" height="41.8" rx="0"/>
<text class="d" x="1157.5" y="227.5" font-size="20" text-anchor="middle" textLength="25.5" lengthAdjust="spacingAndGlyphs" transform="rotate(-90 1157.5 227.5)">Ø335</text>
<path class="t" d="M1052.6 222.5 Q1054.5 236 1050 248.8"/>
<line class="t" x1="1010" y1="249.5" x2="1052.5" y2="248.8"/>
<text class="d" x="1070.6" y="247.3" font-size="16.8" text-anchor="middle" textLength="29" lengthAdjust="spacingAndGlyphs">1. 5°</text>
<line class="t" x1="900" y1="227.4" x2="1097" y2="230.2"/>
<line class="t" x1="1035" y1="229.5" x2="1098" y2="229.5"/>
<path class="t" d="M80.8 208 Q76 222 78.4 236.5"/>
<path class="k" d="M78.3 224.6 L77.5 221.1 L79.1 221.1 Z"/>
<path class="k" d="M78.2 233 L79 236.5 L77.4 236.5 Z"/>
<text class="d" x="63.5" y="223" font-size="16.8" text-anchor="middle" textLength="27" lengthAdjust="spacingAndGlyphs">1. 5°</text>
<line class="t" x1="516.3" y1="402.5" x2="617.6" y2="402.5"/>
<line class="t" x1="516.5" y1="400" x2="516.5" y2="446"/>
<line class="t" x1="617.5" y1="400" x2="617.5" y2="446"/>
<path class="k" d="M516.3 402 L520.8 401.1 L520.8 402.9 Z"/>
<path class="k" d="M617.6 402 L613.1 402.9 L613.1 401.1 Z"/>
<text class="d" x="567.3" y="401.8" font-size="16.2" text-anchor="middle" textLength="20.6" lengthAdjust="spacingAndGlyphs">210</text>
<line class="t" x1="516.3" y1="658.5" x2="617.6" y2="658.5"/>
<line class="t" x1="516.5" y1="583" x2="516.5" y2="661"/>
<line class="t" x1="617.5" y1="583" x2="617.5" y2="661"/>
<path class="k" d="M516.3 658.8 L520.8 657.9 L520.8 659.7 Z"/>
<path class="k" d="M617.6 658.8 L613.1 659.7 L613.1 657.9 Z"/>
<text class="d" x="567.3" y="657.6" font-size="16" text-anchor="middle" textLength="20.6" lengthAdjust="spacingAndGlyphs">210</text>
<line class="t" x1="430" y1="491.5" x2="704" y2="491.5"/>
<line class="t" x1="430.5" y1="489" x2="430.5" y2="497"/>
<line class="t" x1="704.5" y1="489" x2="704.5" y2="497"/>
<path class="k" d="M430 491.3 L434.5 490.4 L434.5 492.2 Z"/>
<path class="k" d="M704 491.3 L699.5 492.2 L699.5 490.4 Z"/>
<text class="d" x="566.8" y="490.6" font-size="16.6" text-anchor="middle" textLength="21.8" lengthAdjust="spacingAndGlyphs">570</text>
<line class="t" x1="404.5" y1="436.3" x2="404.5" y2="597.5"/>
<line class="t" x1="402.5" y1="436.5" x2="505" y2="436.5"/>
<line class="t" x1="402.5" y1="597.5" x2="509" y2="597.5"/>
<path class="k" d="M404.8 436.3 L405.7 440.8 L403.9 440.8 Z"/>
<path class="k" d="M404.8 597.5 L403.9 593 L405.7 593 Z"/>
<text class="d" x="403.8" y="514.3" font-size="18.5" text-anchor="middle" textLength="18.8" lengthAdjust="spacingAndGlyphs" transform="rotate(-90 403.8 514.3)">405</text>
<line class="t" x1="445.5" y1="506.3" x2="445.5" y2="597.5"/>
<path class="k" d="M445 506.3 L445.9 510.8 L444.1 510.8 Z"/>
<path class="k" d="M445 597.5 L444.1 593 L445.9 593 Z"/>
<text class="d" x="444" y="551.8" font-size="19" text-anchor="middle" textLength="18.5" lengthAdjust="spacingAndGlyphs" transform="rotate(-90 444 551.8)">230</text>
<line class="t" x1="722.5" y1="506.3" x2="722.5" y2="557.5"/>
<line class="t" x1="713" y1="506.5" x2="724" y2="506.5"/>
<line class="t" x1="720" y1="557.5" x2="731" y2="557.5"/>
<path class="k" d="M722.5 506.3 L723.4 510.8 L721.6 510.8 Z"/>
<path class="k" d="M722.5 557.5 L721.6 553 L723.4 553 Z"/>
<text class="d" x="721.4" y="531.2" font-size="18" text-anchor="middle" textLength="17.5" lengthAdjust="spacingAndGlyphs" transform="rotate(-90 721.4 531.2)">132</text>
<line class="t" x1="158.8" y1="447.5" x2="232.5" y2="447.5"/>
<line class="t" x1="165.5" y1="447" x2="165.5" y2="472"/>
<line class="t" x1="189.5" y1="447" x2="189.5" y2="468"/>
<line class="t" x1="1027" y1="510.5" x2="1103" y2="510.5"/>
<path class="k" d="M165.4 447.5 L169.9 446.6 L169.9 448.4 Z"/>
<path class="k" d="M189.9 447.5 L185.4 448.4 L185.4 446.6 Z"/>
<text class="d" x="218" y="446.8" font-size="16.8" text-anchor="middle" textLength="28.8" lengthAdjust="spacingAndGlyphs">50.8</text>
<line class="t" x1="137.5" y1="480.5" x2="137.5" y2="510"/>
<line class="t" x1="134" y1="480.5" x2="165" y2="480.5"/>
<line class="t" x1="134" y1="510.5" x2="200" y2="510.5"/>
<path class="k" d="M137 480.5 L137.8 484 L136.2 484 Z"/>
<path class="k" d="M137 510 L136.2 506.5 L137.8 506.5 Z"/>
<text class="d" x="136.6" y="495" font-size="22.5" text-anchor="middle" textLength="12" lengthAdjust="spacingAndGlyphs" transform="rotate(-90 136.6 495)">75</text>
<text class="d" x="110.8" y="507.8" font-size="21" text-anchor="middle" textLength="11.4" lengthAdjust="spacingAndGlyphs" transform="rotate(-90 110.8 507.8)">50</text>
<line class="t" x1="32" y1="551.5" x2="174" y2="551.5"/>
<line class="t" x1="83" y1="614.5" x2="144.8" y2="614.5"/>
<line class="t" x1="144.8" y1="614" x2="166" y2="532"/>
<text class="d" x="118.4" y="613.2" font-size="16" text-anchor="middle" textLength="36.6" lengthAdjust="spacingAndGlyphs">4-M16</text>
<text class="d" x="117.8" y="628.2" font-size="14.5" text-anchor="middle" textLength="71" lengthAdjust="spacingAndGlyphs">螺孔攻深30</text>
<line class="t" x1="420" y1="622.5" x2="465" y2="622.5"/>
<line class="t" x1="465" y1="622.8" x2="508.8" y2="601"/>
<text class="d" x="438" y="622" font-size="15.5" text-anchor="middle" textLength="36" lengthAdjust="spacingAndGlyphs">4-Ø30</text>
<line class="t" x1="660" y1="622.5" x2="706.7" y2="622.5"/>
<line class="t" x1="660" y1="622.8" x2="623.8" y2="601"/>
<text class="d" x="688.3" y="622" font-size="15.5" text-anchor="middle" textLength="36.6" lengthAdjust="spacingAndGlyphs">4-Ø21</text>
<line class="t" x1="346" y1="658.5" x2="471.7" y2="658.5"/>
<line class="t" x1="471.7" y1="658.4" x2="565" y2="614"/>
<text class="d" x="403.3" y="656.2" font-size="15.3" text-anchor="middle" textLength="113.4" lengthAdjust="spacingAndGlyphs">模数DP16，齿数21</text>
<path d="M147 506.5 H987" fill="none" stroke="#333" stroke-width=".8" stroke-dasharray="70 6 44 7"/>
<path d="M364 558.5 H770" fill="none" stroke="#333" stroke-width=".8" stroke-dasharray="36 7 22 7"/>
</g>
</svg>
</body></html>
